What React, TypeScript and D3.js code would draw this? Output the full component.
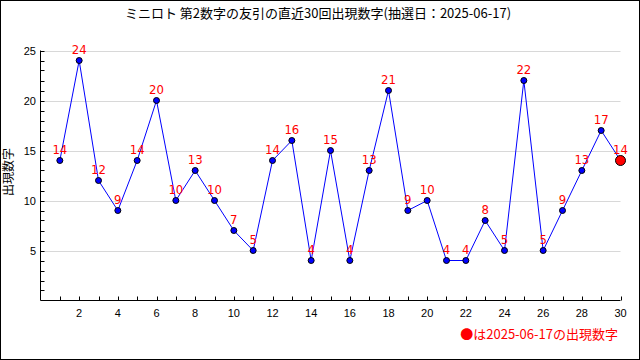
import React from "react";
import * as d3 from "d3";

const title = "ミニロト 第2数字の友引の直近30回出現数字(抽選日：2025-06-17)";
const yTitle = "出現数字";
const legendText = "●は2025-06-17の出現数字";
const draws = d3.range(1, 31);
const values = [14, 24, 12, 9, 14, 20, 10, 13, 10, 7, 5, 14, 16, 4, 15, 4, 13, 21, 9, 10, 4, 4, 8, 5, 22, 5, 9, 13, 17, 14];
const yMajorTicks = [5, 10, 15, 20, 25];
const xMajorTicks = [2, 4, 6, 8, 10, 12, 14, 16, 18, 20, 22, 24, 26, 28, 30];

const W = 640;
const H = 360;
const left = 40.5;
const right = 620.5;
const top = 50.5;
const bottom = 300.5;

const jp = "'Noto Sans CJK JP', 'DejaVu Sans', sans-serif";
const num = "'Liberation Sans', 'DejaVu Sans', sans-serif";
const numNarrow = "'Liberation Sans Narrow', 'DejaVu Sans Condensed', 'Liberation Sans', sans-serif";

export default function App() {
  const x = d3.scaleLinear().domain([0, 30]).range([left, right]);
  const y = d3.scaleLinear().domain([0, 25]).range([bottom, top]);
  const line = d3
    .line<number>()
    .x((_, i) => x(draws[i]))
    .y((d) => y(d));
  const yMinor = d3.range(1, 26);
  const xMinor = d3.range(1, 31);
  const last = values.length - 1;

  return (
    <svg width={W} height={H} style={{ position: "absolute", left: 0, top: 0, background: "#fff" }}>
      <rect x={0.5} y={0.5} width={W - 1} height={H - 1} fill="#fff" stroke="#000" />
      <text x={318} y={18} textAnchor="middle" fontFamily={jp} fontSize={13} fill="#000">
        {title}
      </text>
      {yMajorTicks.map((t) => (
        <line key={"g" + t} x1={left} x2={right} y1={Math.round(y(t)) + 0.5} y2={Math.round(y(t)) + 0.5} stroke="#d8d8d8" />
      ))}
      <line x1={left} x2={left} y1={top} y2={bottom} stroke="#000" />
      <line x1={left} x2={right} y1={bottom} y2={bottom} stroke="#000" />
      {yMinor.map((t) => (
        <line key={"ym" + t} x1={left} x2={left + 4} y1={Math.round(y(t)) + 0.5} y2={Math.round(y(t)) + 0.5} stroke="#000" />
      ))}
      {xMinor.map((t) => (
        <line key={"xm" + t} x1={Math.round(x(t)) + 0.5} x2={Math.round(x(t)) + 0.5} y1={bottom} y2={bottom - 4} stroke="#000" />
      ))}
      {yMajorTicks.map((t) => (
        <text key={"yl" + t} x={36} y={y(t) + 4} textAnchor="end" fontFamily={num} fontSize={11} fill="#000">
          {t}
        </text>
      ))}
      {xMajorTicks.map((t) => (
        <text key={"xl" + t} x={x(t)} y={317} textAnchor="middle" fontFamily={num} fontSize={11} fill="#000">
          {t}
        </text>
      ))}
      <text
        transform={`translate(13,${172}) rotate(-90)`}
        textAnchor="middle"
        fontFamily={jp}
        fontSize={12}
        fill="#000"
      >
        {yTitle}
      </text>
      <path d={line(values) || ""} fill="none" stroke="#0000ff" strokeWidth={1} />
      {values.map((v, i) => (
        <circle
          key={"p" + i}
          cx={x(draws[i])}
          cy={y(v)}
          r={i === last ? 5 : 3}
          fill={i === last ? "#ff0000" : "#0000ff"}
          stroke="#000"
          strokeWidth={1}
        />
      ))}
      {values.map((v, i) => (
        <text
          key={"l" + i}
          x={x(draws[i])}
          y={y(v) - 6.5}
          textAnchor="middle"
          fontFamily={numNarrow}
          fontSize={13}
          fill="#ff0000"
        >
          {v}
        </text>
      ))}
      <text x={618} y={339} textAnchor="end" fontFamily={jp} fontSize={13} fill="#ff0000">
        {legendText}
      </text>
    </svg>
  );
}
